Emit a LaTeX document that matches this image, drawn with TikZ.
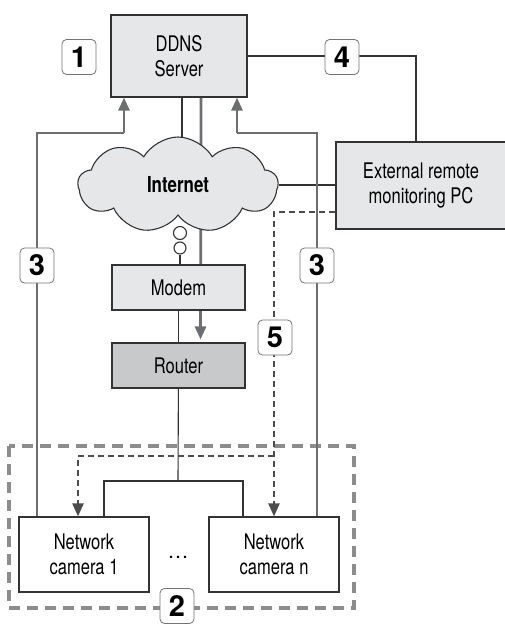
\documentclass[tikz,border=0pt]{standalone}
\usepackage{fontspec}
\setmainfont{TeX Gyre Heros}[FakeStretch=0.77]
\newfontfamily\numfont{TeX Gyre Heros}
\usetikzlibrary{arrows.meta,shapes.symbols,backgrounds}
\definecolor{boxgray}{HTML}{E6E7E8}
\definecolor{routergray}{HTML}{C8C9CB}
\definecolor{flowgray}{HTML}{6D6E71}
\definecolor{groupgray}{HTML}{8C8C8C}

\begin{document}
\begin{tikzpicture}[
  x=1pt, y=-1pt,
  font=\fontsize{21.5}{24.5}\selectfont,
  box/.style={draw=black!80, fill=boxgray, line width=1.1pt, align=center, inner sep=0pt},
  cam/.style={box, fill=white, minimum width=130pt, minimum height=75pt},
  numlbl/.style={draw=black!55, fill=white, rounded corners=4.5pt, line width=0.8pt,
    minimum width=34pt, minimum height=35pt, inner sep=0pt,
    font=\numfont\fontsize{29}{29}\selectfont\bfseries},
  wire/.style={draw=black!80, line width=1.1pt},
  flow/.style={draw=flowgray, line width=2.8pt, -{Triangle[width=11pt,length=13pt]}},
  flowline/.style={draw=flowgray, line width=2.8pt},
  remote/.style={draw=black!70, line width=2.2pt, dash pattern=on 6pt off 4pt,
    -{Triangle[width=11pt,length=13pt]}},
  group/.style={draw=groupgray, line width=3.3pt, dash pattern=on 11pt off 7pt}
]
\useasboundingbox (0,0) rectangle (505,624);

% boxes
\node[box, minimum width=136pt, minimum height=82pt] (ddns) at (179,56) {DDNS\\Server};
\node[box, minimum width=170pt, minimum height=87pt] (pc) at (421,185.5) {External remote\\monitoring PC};
\node[cloud, cloud puffs=9, cloud puff arc=120, aspect=2.1, draw=black!80, fill=boxgray,
  line width=1.1pt, minimum width=200pt, minimum height=96pt, inner sep=0pt,
  font=\fontsize{22}{22}\selectfont\bfseries] (inet) at (178,185) {Internet};
\node[box, minimum width=133pt, minimum height=45pt] (modem) at (178.5,287.5) {Modem};
\node[box, fill=routergray, minimum width=133pt, minimum height=45pt] (router) at (178.5,365.5) {Router};
\node[cam] (cam1) at (84,554.5) {Network\\camera 1};
\node[cam] (camn) at (274,554.5) {Network\\camera n};
\node[font=\numfont\fontsize{21}{21}\selectfont] (dots) at (178,557) {\dots};
\node[circle, draw=black!80, fill=white, line width=1.1pt, minimum size=13pt, inner sep=0pt] (b1) at (180,233) {};
\node[circle, draw=black!80, fill=white, line width=1.1pt, minimum size=12pt, inner sep=0pt] (b2) at (180,248) {};

\coordinate (hub) at (178,481);
\coordinate (split) at (274,456);

% links behind the boxes
\begin{scope}[on background layer]
  \draw[wire] ([xshift=3pt]ddns.south) -- ([xshift=3pt]ddns.south |- inet.center);
  \draw[flow] ([xshift=22pt]ddns.south) -- ([xshift=22pt,yshift=3pt]router.north);
  \draw[group] (9,446) rectangle (354,608);
\end{scope}

\draw[wire] (b2) -- (b2 |- modem.north);
\draw[wire] (modem.south -| router) -- (router);
\draw[wire] (router) -- (hub);
\draw[wire] ([xshift=20pt]cam1.north) |- (hub) -| ([xshift=-31pt]camn.north);
\draw[wire] (inet.east) -- (inet.east -| pc.west);
\draw[wire] (ddns.east) -- (342,56) -| (pc.north -| 416,0);

% camera -> DDNS
\draw[flowline] ([xshift=-47pt]cam1.north) |- (124,133);
\draw[flow] (124,133) -- ([xshift=-55pt]ddns.south);
\draw[flowline] ([xshift=43pt]camn.north) |- (237,133);
\draw[flow] (237,133) -- ([xshift=58pt]ddns.south);

% PC -> cameras
\draw[remote] ([yshift=-26.5pt]pc.west) -| (camn.north);
\draw[remote] (split) -| ([xshift=-6pt]cam1.north);

% step numbers
\node[numlbl] (n1) at (79,57) {1};
\node[numlbl] (n4) at (342,57) {4};
\node[numlbl] (n3a) at (37,265.5) {3};
\node[numlbl] (n3b) at (317,265.5) {3};
\node[numlbl] (n5) at (275,337.5) {5};
\node[numlbl] (n2) at (177,606) {2};
\end{tikzpicture}
\end{document}
